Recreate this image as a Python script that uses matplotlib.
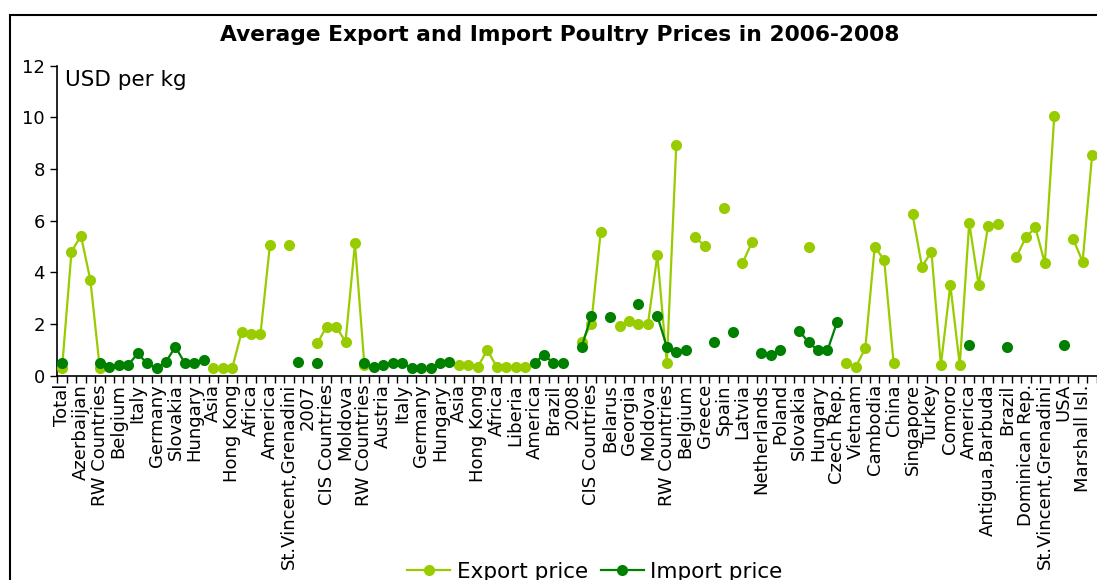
import numpy as np
import matplotlib
matplotlib.use("Agg")
import matplotlib.pyplot as plt
from matplotlib.patches import Rectangle

# ---------------- data ----------------
title = "Average Export and Import Poultry Prices in 2006-2008"
unit_label = "USD per kg"

# visible category labels (every second category is labelled)
tick_labels = [
    "Total", "Azerbaijan", "RW Countries", "Belgium", "Italy", "Germany",
    "Slovakia", "Hungary", "Asia", "Hong Kong", "Africa", "America",
    "St.Vincent,Grenadini", "2007", "CIS Countries", "Moldova", "RW Countries",
    "Austria", "Italy", "Germany", "Hungary", "Asia", "Hong Kong", "Africa",
    "Liberia", "America", "Brazil", "2008", "CIS Countries", "Belarus",
    "Georgia", "Moldova", "RW Countries", "Belgium", "Greece", "Spain",
    "Latvia", "Netherlands", "Poland", "Slovakia", "Hungary", "Czech Rep.",
    "Vietnam", "Cambodia", "China", "Singapore", "Turkey", "Comoro",
    "America", "Antigua,Barbuda", "Brazil", "Dominican Rep.",
    "St.Vincent,Grenadini", "USA", "Marshall Isl.",
]
n_categories = 110

N = None
export_price = [
    0.28, 4.80, 5.42, 3.70, 0.28, N, N, N, N, N,
    N, N, N, N, N, N, 0.28, 0.28, 0.28, 1.68,
    1.62, 1.62, 5.06, N, 5.06, N, N, 1.25, 1.90, 1.90,
    1.32, 5.12, 0.40, N, N, N, N, N, N, N,
    N, N, 0.41, 0.41, 0.35, 0.99, 0.35, 0.35, 0.35, 0.35,
    N, N, N, N, N, 1.32, 2.00, 5.56, N, 1.93,
    2.13, 2.00, 2.00, 4.67, 0.48, 8.92, N, 5.36, 5.03, N,
    6.50, N, 4.35, 5.16, N, N, N, N, N, 4.99,
    N, N, N, 0.48, 0.35, 1.06, 4.99, 4.48, 0.48, N,
    6.25, 4.22, 4.80, 0.41, 3.51, 0.41, 5.92, 3.51, 5.81, 5.87,
    N, 4.61, 5.36, 5.74, 4.35, 10.05, N, 5.29, 4.41, 8.54,
]
import_price = [
    0.48, N, N, N, 0.48, 0.35, 0.41, 0.41, 0.86, 0.48,
    0.28, 0.54, 1.12, 0.48, 0.48, 0.60, N, N, N, N,
    N, N, N, N, N, 0.54, N, 0.48, N, N,
    N, N, 0.48, 0.35, 0.41, 0.48, 0.48, 0.28, 0.28, 0.28,
    0.48, 0.54, N, N, N, N, N, N, N, N,
    0.48, 0.82, 0.48, 0.48, N, 1.12, 2.31, N, 2.26, N,
    N, 2.76, N, 2.31, 1.12, 0.93, 0.99, N, N, 1.31,
    N, 1.68, N, N, 0.86, 0.80, 0.99, N, 1.74, 1.29,
    0.98, 0.98, 2.06, N, N, N, N, N, N, N,
    N, N, N, N, N, N, 1.19, N, N, N,
    1.12, N, N, N, N, N, 1.19, N, N, N,
]
series_names = ["Export price", "Import price"]
y_ticks = [0, 2, 4, 6, 8, 10, 12]

# ---------------- style ----------------
W, H = 1097, 580
export_color = "#99CC00"
import_color = "#008000"
plt.rcParams["font.family"] = ["DejaVu Sans"]

fig = plt.figure(figsize=(W / 100, H / 100), dpi=100)
left_px, right_px, top_px, bottom_px = 57.3, 1096.8, 65.7, 375.7
ax = fig.add_axes([left_px / W, 1 - bottom_px / H,
                   (right_px - left_px) / W, (bottom_px - top_px) / H])

x = np.arange(n_categories)
e = np.array([np.nan if v is None else v for v in export_price], dtype=float)
i = np.array([np.nan if v is None else v for v in import_price], dtype=float)

ax.plot(x, e, "-o", color=export_color, lw=1.6, ms=8,
        markeredgewidth=0, label=series_names[0], clip_on=False, zorder=3)
ax.plot(x, i, "-o", color=import_color, lw=1.6, ms=8,
        markeredgewidth=0, label=series_names[1], clip_on=False, zorder=4)

ax.set_xlim(-0.5, n_categories - 0.5)
ax.set_ylim(0, 12)
ax.set_yticks(y_ticks)
ax.set_yticklabels([str(t) for t in y_ticks], fontsize=13)
ax.tick_params(axis="y", direction="out", length=5, width=1, pad=4)

ax.set_xticks(np.arange(0, 2 * len(tick_labels), 2))
ax.set_xticklabels(tick_labels, rotation=90, fontsize=13)
ax.set_xticks(np.arange(-0.5, n_categories, 1), minor=True)
ax.tick_params(axis="x", which="major", length=0, pad=6)
ax.tick_params(axis="x", which="minor", direction="out", length=5, width=1)

for s in ["top", "right"]:
    ax.spines[s].set_visible(False)
for s in ["left", "bottom"]:
    ax.spines[s].set_color("black")
    ax.spines[s].set_linewidth(1.2)

fig.text(65 / W, 1 - 80 / H, unit_label, fontsize=15.5, ha="left", va="center")
fig.text(560 / W, 1 - 35 / H, title, fontsize=15.7, fontweight="bold",
         ha="center", va="center")

fig.legend(loc="center", bbox_to_anchor=(595 / W, 1 - 572 / H), ncol=2,
           frameon=False, fontsize=15.5, handlelength=2.0, handletextpad=0.3,
           columnspacing=0.6)

fig.add_artist(Rectangle((10 / W, -0.1), 1.2, (1 - 15 / H) + 0.1,
                         transform=fig.transFigure, fill=False,
                         lw=1.5, ec="black"))

fig.savefig("out.png", dpi=100)
